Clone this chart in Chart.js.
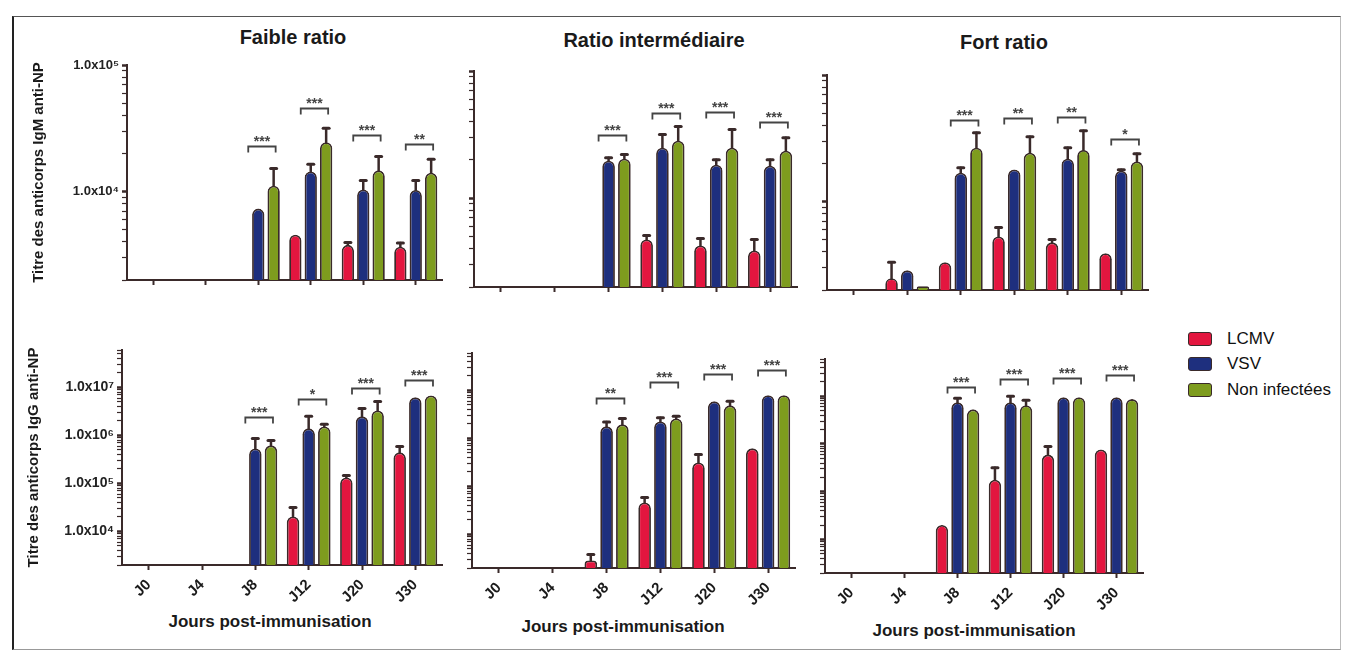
<!DOCTYPE html>
<html lang="fr">
<head>
<meta charset="UTF-8">
<title>Titre des anticorps anti-NP</title>
<script src="https://cdn.jsdelivr.net/npm/chart.js"></script>
<style>
  body { margin: 0; background: #fff; font-family: 'Liberation Sans', Arial, sans-serif; }
  #fig { position: relative; width: 1346px; height: 656px; overflow: hidden; }
  .frame { position: absolute; left: 12px; top: 16px; width: 1326px; height: 632px;
           border-left: 2px solid #222; border-top: 1.5px solid #555; border-bottom: 1px solid #999; border-right: 1px solid #bbb; }
  canvas { position: absolute; }
  .t { position: absolute; font-weight: bold; color: #1a1a1a; white-space: nowrap; transform: translate(-50%, -50%); }
  .title { font-size: 20px; }
  .xt { font-size: 17px; }
  .leg { position: absolute; left: 1188px; font-size: 17px; color: #111; transform: translateY(-50%); }
  .leg span { display: inline-block; width: 22px; height: 12px; border: 1.5px solid #3a2a2a; border-radius: 3px;
              vertical-align: middle; margin-right: 15px; position: relative; top: -1px; }
</style>
</head>
<body>
<div id="fig">
  <div class="frame"></div>
  <div class="t title" style="left:293px; top:37px">Faible ratio</div>
  <div class="t title" style="left:654px; top:40px">Ratio intermédiaire</div>
  <div class="t title" style="left:1004px; top:42px">Fort ratio</div>
  <div class="t xt" style="left:270px; top:622px">Jours post-immunisation</div>
  <div class="t xt" style="left:623px; top:627px">Jours post-immunisation</div>
  <div class="t xt" style="left:974px; top:631px">Jours post-immunisation</div>
  <div id="legend"></div>
</div>
<script>
// categories and series
const days = ['J0', 'J4', 'J8', 'J12', 'J20', 'J30'];
const seriesNames = ['LCMV', 'VSV', 'Non infectées'];
const seriesColors = ['#e3163f', '#1e2f7e', '#7e9c1e'];

// IgM, faible ratio
const igmFaibleLcmv = [null, null, null, 4560, 3790, 3660];
const igmFaibleLcmvErr = [null, null, null, null, 3960, 3930];
const igmFaibleVsv = [null, null, 7330, 14400, 10400, 10300];
const igmFaibleVsvErr = [null, null, null, 16400, 12200, 12200];
const igmFaibleNi = [null, null, 11100, 24500, 14700, 14100];
const igmFaibleNiErr = [null, null, 15200, 31600, 18950, 17970];
const igmFaibleStars = ['', '', '***', '***', '***', '**'];
const igmFaibleStarY = [null, null, 22800, 45600, 27800, 23600];

// IgM, ratio intermediaire
const igmInterLcmv = [null, null, null, 4730, 4240, 3870];
const igmInterLcmvErr = [null, null, null, 5090, 4810, 4730];
const igmInterVsv = [null, null, 19700, 24900, 18300, 18000];
const igmInterVsvErr = [null, null, 20800, 31600, 20000, 20000];
const igmInterNi = [null, null, 20400, 28300, 24900, 23600];
const igmInterNiErr = [null, null, 22000, 36600, 34600, 29900];
const igmInterStars = ['', '', '***', '***', '***', '***'];
const igmInterStarY = [null, null, 31600, 46400, 47200, 39400];

// IgM, fort ratio
const igmFortLcmv = [null, 2480, 3310, 5300, 4760, 3900];
const igmFortLcmvErr = [null, 3310, null, 6240, 5020, null];
const igmFortVsv = [null, 2860, 16900, 17900, 21800, 17500];
const igmFortVsvErr = [null, null, 18500, null, 26600, 17800];
const igmFortNi = [null, 2140, 26600, 24300, 25600, 20700];
const igmFortNiErr = [null, null, 35000, 32500, 36200, 23900];
const igmFortStars = ['', '', '***', '**', '**', '*'];
const igmFortStarY = [null, null, 44200, 45800, 46700, 31300];

// IgG, faible ratio
const iggFaibleLcmv = [null, null, null, 20500, 133000, 443000];
const iggFaibleLcmvErr = [null, null, null, 31600, 147000, 590000];
const iggFaibleVsv = [null, null, 536000, 1400000, 2490000, 6200000];
const iggFaibleVsvErr = [null, null, 865000, 2490000, 3650000, null];
const iggFaibleNi = [null, null, 620000, 1540000, 3300000, 6800000];
const iggFaibleNiErr = [null, null, 787000, 1700000, 5100000, null];
const iggFaibleStars = ['', '', '***', '*', '***', '***'];
const iggFaibleStarY = [null, null, 2370000, 5600000, 9500000, 14000000];

// IgG, ratio intermediaire
const iggInterLcmv = [null, null, 2870, 46400, 316000, 620000];
const iggInterLcmvErr = [null, null, 3800, 59000, 464000, null];
const iggInterVsv = [null, null, 1780000, 2260000, 5900000, 7900000];
const iggInterVsvErr = [null, null, 2200000, 2700000, null, null];
const iggInterNi = [null, null, 1960000, 2600000, 4870000, 7900000];
const iggInterNiErr = [null, null, 2600000, 2900000, 5900000, null];
const iggInterStars = ['', '', '**', '***', '***', '***'];
const iggInterStarY = [null, null, 7100000, 14700000, 21500000, 27000000];

// IgG, fort ratio
const iggFortLcmv = [null, null, 20200, 179000, 600000, 766000];
const iggFortLcmvErr = [null, null, null, 320000, 885000, null];
const iggFortVsv = [null, null, 7500000, 7500000, 9500000, 9500000];
const iggFortVsvErr = [null, null, 9100000, 10000000, null, null];
const iggFortNi = [null, null, 5300000, 6500000, 9500000, 8700000];
const iggFortNiErr = [null, null, null, 8200000, null, null];
const iggFortStars = ['', '', '***', '***', '***', '***'];
const iggFortStarY = [null, null, 15500000, 22800000, 24000000, 27700000];

// axis ranges
const igmRange = [2000, 100000];
const iggRange = [2000, 60000000];

const panels = [
  { values: [igmFaibleLcmv, igmFaibleVsv, igmFaibleNi], errors: [igmFaibleLcmvErr, igmFaibleVsvErr, igmFaibleNiErr],
    stars: igmFaibleStars, starY: igmFaibleStarY, range: igmRange },
  { values: [igmInterLcmv, igmInterVsv, igmInterNi], errors: [igmInterLcmvErr, igmInterVsvErr, igmInterNiErr],
    stars: igmInterStars, starY: igmInterStarY, range: igmRange },
  { values: [igmFortLcmv, igmFortVsv, igmFortNi], errors: [igmFortLcmvErr, igmFortVsvErr, igmFortNiErr],
    stars: igmFortStars, starY: igmFortStarY, range: igmRange },
  { values: [iggFaibleLcmv, iggFaibleVsv, iggFaibleNi], errors: [iggFaibleLcmvErr, iggFaibleVsvErr, iggFaibleNiErr],
    stars: iggFaibleStars, starY: iggFaibleStarY, range: iggRange },
  { values: [iggInterLcmv, iggInterVsv, iggInterNi], errors: [iggInterLcmvErr, iggInterVsvErr, iggInterNiErr],
    stars: iggInterStars, starY: iggInterStarY, range: iggRange },
  { values: [iggFortLcmv, iggFortVsv, iggFortNi], errors: [iggFortLcmvErr, iggFortVsvErr, iggFortNiErr],
    stars: iggFortStars, starY: iggFortStarY, range: iggRange },
];

// where each plot area sits on the page (the scan is slightly skewed)
const boxes = [
  { L: 127, R: 442, T: 65,  B: 280, yW: 101, xH: 12, yLab: 13, xLab: false, yTitle: 'Titre des anticorps IgM anti-NP' },
  { L: 474, R: 797, T: 71,  B: 287, yW: 10,  xH: 12, yLab: 0,  xLab: false },
  { L: 827, R: 1148, T: 75, B: 290, yW: 10,  xH: 12, yLab: 0,  xLab: false },
  { L: 122, R: 442, T: 350, B: 565, yW: 101, xH: 45, yLab: 14, xLab: true, yTitle: 'Titre des anticorps IgG anti-NP' },
  { L: 472, R: 795, T: 353, B: 568, yW: 10,  xH: 45, yLab: 0,  xLab: true },
  { L: 825, R: 1143, T: 359, B: 573, yW: 10, xH: 45, yLab: 0,  xLab: true },
];

const sup = { 4: '⁴', 5: '⁵', 6: '⁶', 7: '⁷' };
const FONT = "'Liberation Sans', Arial, sans-serif";
const INK = '#3a2a2a';
const padTop = 14, padRight = 8;

function isDecade(v) {
  const e = Math.log10(v);
  return Math.abs(e - Math.round(e)) < 1e-9;
}

// error bars + significance brackets, drawn from the data through the scales
function makeMarks(p) {
  return {
    id: 'marks',
    afterDatasetsDraw(chart) {
      const { ctx } = chart;
      const y = chart.scales.y;
      ctx.save();
      ctx.strokeStyle = INK;
      ctx.lineCap = 'round';
      p.errors.forEach((errs, di) => {
        const bars = chart.getDatasetMeta(di).data;
        errs.forEach((e, i) => {
          if (e == null) return;
          const bar = bars[i];
          const yTop = y.getPixelForValue(e);
          ctx.lineWidth = 2.5;
          ctx.beginPath(); ctx.moveTo(bar.x, bar.y); ctx.lineTo(bar.x, yTop); ctx.stroke();
          ctx.lineWidth = 3;
          ctx.beginPath(); ctx.moveTo(bar.x - 3, yTop); ctx.lineTo(bar.x + 3, yTop); ctx.stroke();
        });
      });
      const vsv = chart.getDatasetMeta(1).data;
      const ni = chart.getDatasetMeta(2).data;
      ctx.strokeStyle = '#444';
      ctx.lineWidth = 1.8;
      ctx.lineCap = 'butt';
      ctx.fillStyle = '#444';
      ctx.font = 'bold 14px ' + FONT;
      ctx.textAlign = 'center';
      ctx.textBaseline = 'alphabetic';
      p.stars.forEach((s, i) => {
        if (!s) return;
        const yb = Math.round(y.getPixelForValue(p.starY[i])) + 0.5;
        const x1 = vsv[i].x - 10, x2 = ni[i].x + 2;
        ctx.beginPath();
        ctx.moveTo(x1, yb + 6); ctx.lineTo(x1, yb); ctx.lineTo(x2, yb); ctx.lineTo(x2, yb + 6);
        ctx.stroke();
        ctx.fillText(s, (x1 + x2) / 2, yb - 1);
      });
      ctx.restore();
    }
  };
}

const fig = document.getElementById('fig');

panels.forEach((p, k) => {
  const b = boxes[k];
  const canvas = document.createElement('canvas');
  canvas.width = b.R - b.L + b.yW + padRight;
  canvas.height = b.B - b.T + padTop + b.xH;
  canvas.style.left = (b.L - b.yW) + 'px';
  canvas.style.top = (b.T - padTop) + 'px';
  fig.appendChild(canvas);

  new Chart(canvas, {
    type: 'bar',
    data: {
      labels: days,
      datasets: p.values.map((vals, i) => ({
        label: seriesNames[i],
        data: vals,
        backgroundColor: seriesColors[i],
        borderColor: INK,
        borderWidth: 1.8,
        borderSkipped: 'bottom',
        borderRadius: { topLeft: 6, topRight: 6, bottomLeft: 0, bottomRight: 0 },
        categoryPercentage: 0.88,
        barPercentage: 0.8,
      }))
    },
    options: {
      responsive: false,
      animation: false,
      layout: { padding: { top: padTop, right: padRight, left: 0, bottom: 0 } },
      plugins: { legend: { display: false }, tooltip: { enabled: false } },
      scales: {
        x: {
          grid: { display: true, drawOnChartArea: false, offset: false, tickLength: 5, tickColor: INK, tickWidth: 2 },
          border: { color: INK, width: 2 },
          ticks: {
            display: b.xLab, maxRotation: 45, minRotation: 45, padding: 6,
            color: '#1a1a1a', font: { family: FONT, size: 15, weight: 'bold' }
          },
          afterFit(s) {
            s.height = b.xH;
            s.paddingLeft = 0; s.paddingRight = 0; s.paddingTop = 0; s.paddingBottom = 0;
          }
        },
        y: {
          type: 'logarithmic',
          min: p.range[0],
          max: p.range[1],
          grid: {
            drawOnChartArea: false, tickLength: 5, tickColor: INK,
            tickWidth: (c) => (c.tick && isDecade(c.tick.value) ? 2.5 : 1.2)
          },
          border: { color: INK, width: 2 },
          title: {
            display: !!b.yTitle, text: b.yTitle || '', color: '#1a1a1a',
            font: { family: FONT, size: 15, weight: 'bold' }
          },
          ticks: {
            display: b.yLab > 0, autoSkip: false, padding: 3, color: '#222',
            font: { family: FONT, size: b.yLab || 11, weight: 'bold' },
            callback: (v) => (isDecade(v) ? '1.0x10' + sup[Math.round(Math.log10(v))] : '')
          },
          afterBuildTicks(s) {
            const t = [];
            for (let e = Math.floor(Math.log10(s.min)); e <= Math.ceil(Math.log10(s.max)); e++) {
              for (let m = 1; m <= 9; m++) {
                const v = m * Math.pow(10, e);
                if (v >= s.min * 0.999 && v <= s.max * 1.001) t.push({ value: v, major: m === 1 });
              }
            }
            s.ticks = t;
          },
          afterFit(s) {
            s.width = b.yW;
            s.paddingLeft = 0; s.paddingRight = 0; s.paddingTop = 0; s.paddingBottom = 0;
          }
        }
      }
    },
    plugins: [makeMarks(p)]
  });
});

// legend
const legendTops = [339, 364, 390];
const legend = document.getElementById('legend');
seriesNames.forEach((name, i) => {
  const d = document.createElement('div');
  d.className = 'leg';
  d.style.top = legendTops[i] + 'px';
  d.innerHTML = '<span style="background:' + seriesColors[i] + '"></span>' + name;
  legend.appendChild(d);
});
</script>
</body>
</html>
